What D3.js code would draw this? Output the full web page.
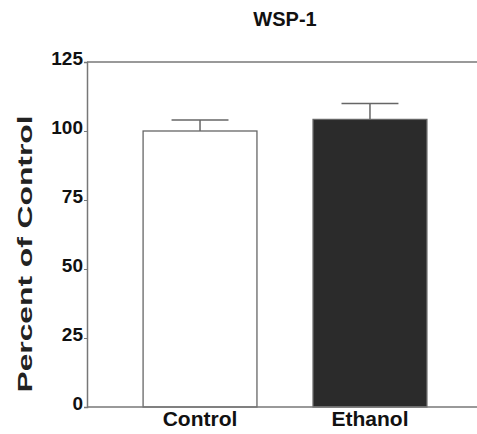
<!DOCTYPE html>
<html>
<head>
<meta charset="utf-8">
<title>WSP-1</title>
<script src="https://cdn.jsdelivr.net/npm/d3@7"></script>
<style>
body { margin: 0; background: #fff; }
svg { font-family: "Liberation Sans", Arial, sans-serif; font-weight: bold; }
</style>
</head>
<body>
<script>
// data
var groups = ["Control", "Ethanol"];
var means = [100, 104.2];
var errs = [4, 5.8];
var fills = ["#ffffff", "#2b2b2b"];
var yTicks = [0, 25, 50, 75, 100, 125];

var W = 477, H = 434;
var margin = {top: 62, right: 0, bottom: 27, left: 87};

var svg = d3.select("body").append("svg")
  .attr("width", W)
  .attr("height", H);

var x = d3.scaleBand()
  .domain(groups)
  .range([margin.left, W + 6])
  .paddingInner(0.33)
  .paddingOuter(0.33);

var y = d3.scaleLinear()
  .domain([0, 125])
  .range([H - margin.bottom, margin.top]);

var data = groups.map(function(g, i) {
  return {name: g, mean: means[i], err: errs[i], fill: fills[i]};
});

// bars
svg.selectAll(".bar")
  .data(data)
  .enter().append("rect")
  .attr("class", "bar")
  .attr("x", function(d) { return x(d.name); })
  .attr("y", function(d) { return y(d.mean); })
  .attr("width", x.bandwidth())
  .attr("height", function(d) { return y(0) - y(d.mean); })
  .style("fill", function(d) { return d.fill; })
  .style("stroke", "#666")
  .style("stroke-width", 1.3);

// error bars (upper only)
var eb = svg.selectAll(".err")
  .data(data)
  .enter().append("g")
  .attr("class", "err")
  .style("stroke", "#666")
  .style("stroke-width", 1.5);

eb.append("line")
  .attr("x1", function(d) { return x(d.name) + x.bandwidth() / 2; })
  .attr("x2", function(d) { return x(d.name) + x.bandwidth() / 2; })
  .attr("y1", function(d) { return y(d.mean); })
  .attr("y2", function(d) { return y(d.mean + d.err); });

eb.append("line")
  .attr("x1", function(d) { return x(d.name) + x.bandwidth() * 0.25; })
  .attr("x2", function(d) { return x(d.name) + x.bandwidth() * 0.75; })
  .attr("y1", function(d) { return y(d.mean + d.err); })
  .attr("y2", function(d) { return y(d.mean + d.err); });

// top frame line
svg.append("line")
  .attr("x1", margin.left).attr("x2", W)
  .attr("y1", y(125)).attr("y2", y(125))
  .style("stroke", "#777").style("stroke-width", 1.5);

// y axis
var yAxis = svg.append("g")
  .attr("transform", "translate(" + margin.left + ",0)")
  .call(d3.axisLeft(y).tickValues(yTicks).tickSize(3).tickPadding(1))
yAxis.select(".domain").style("stroke", "#777").style("stroke-width", 1.5);
yAxis.selectAll(".tick line").style("stroke", "#777");
yAxis.selectAll(".tick text")
  .attr("dy", "0.12em")
  .style("font-size", "19px")
  .style("font-family", "Liberation Sans, Arial, sans-serif")
  .style("font-weight", "bold")
  .style("fill", "#111");

// x axis
var xAxis = svg.append("g")
  .attr("transform", "translate(0," + y(0) + ")")
  .call(d3.axisBottom(x).tickSize(0).tickPadding(4));
xAxis.select(".domain")
  .attr("d", "M" + margin.left + ",0H" + W)
  .style("stroke", "#777").style("stroke-width", 1.5);
xAxis.selectAll(".tick text")
  .attr("dy", "0.71em")
  .style("font-size", "21px")
  .style("font-family", "Liberation Sans, Arial, sans-serif")
  .style("font-weight", "bold")
  .style("fill", "#111");

// title
svg.append("text")
  .attr("x", 285)
  .attr("y", 26)
  .attr("text-anchor", "middle")
  .style("font-size", "20px")
  .style("fill", "#111")
  .text("WSP-1");

// y label
svg.append("text")
  .attr("transform", "translate(32," + 254 + ") rotate(-90)")
  .attr("text-anchor", "middle")
  .attr("textLength", 277)
  .attr("lengthAdjust", "spacingAndGlyphs")
  .style("font-size", "21px")
  .style("fill", "#222")
  .text("Percent of Control");
</script>
</body>
</html>
